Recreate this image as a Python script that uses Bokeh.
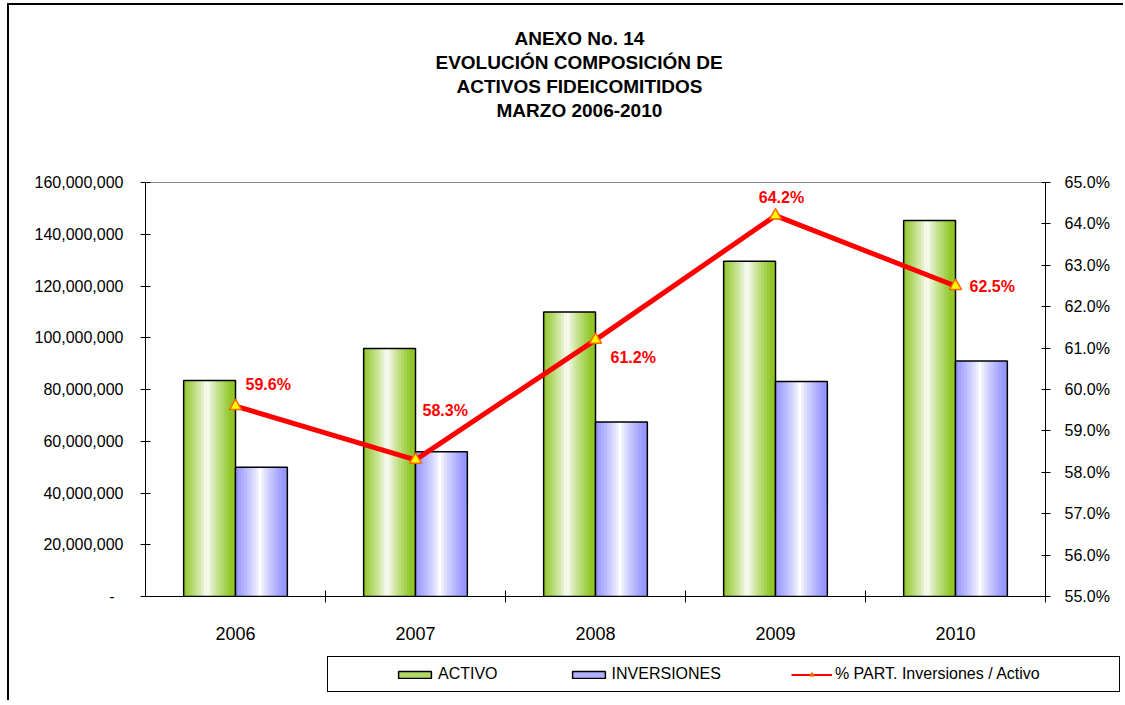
from bokeh.plotting import figure
from bokeh.layouts import column
from bokeh.models import (ColumnDataSource, LinearAxis, Range1d, FixedTicker, Legend,
                          LegendItem, Title, NumeralTickFormatter, PrintfTickFormatter)
from bokeh.transform import dodge
from bokeh.core.properties import value
from bokeh.embed import file_html
from bokeh.resources import INLINE

# ---------------- data ----------------
years = ["2006", "2007", "2008", "2009", "2010"]
activo = [83_500_000, 95_800_000, 110_000_000, 129_600_000, 145_300_000]
inversiones = [50_000_000, 55_900_000, 67_400_000, 83_100_000, 91_000_000]
pct = [59.6, 58.3, 61.2, 64.2, 62.5]
pct_labels = ["59.6%", "58.3%", "61.2%", "64.2%", "62.5%"]
left_ticks = [0, 20_000_000, 40_000_000, 60_000_000, 80_000_000,
              100_000_000, 120_000_000, 140_000_000, 160_000_000]
right_ticks = [55, 56, 57, 58, 59, 60, 61, 62, 63, 64, 65]
title_lines = ["ANEXO No. 14", "EVOLUCIÓN COMPOSICIÓN  DE",
               "ACTIVOS FIDEICOMITIDOS", "MARZO 2006-2010"]
series_names = ["ACTIVO", "INVERSIONES", "% PART. Inversiones / Activo"]

# placement (style only)
lab_dx = [10, 7, 15, 6, 14]
lab_dy = [-22, -49, 18, -18, 0]
lab_align = ["left", "left", "left", "center", "left"]
title_offsets = [369, 290, 311, 351]
legend_pad_right = " " * 16   # widens the legend box like the original

FONT = "Liberation Sans"
GREEN = (145, 198, 40)
BLUE = (150, 150, 255)
idx = list(range(1, len(years) + 1))

src = ColumnDataSource(dict(idx=idx, year=years, activo=activo, inv=inversiones,
                            pct=pct, lab=pct_labels, dx=lab_dx, dy=lab_dy, al=lab_align))

W = 1114
p = figure(frame_width=900, frame_height=414,
           min_border_left=136, min_border_right=W - 136 - 900, min_border_top=177, min_border_bottom=60,
           x_range=Range1d(0.5, 5.5), y_range=Range1d(0, 160_000_000),
           x_axis_location=None, y_axis_location=None,
           output_backend="svg", toolbar_location=None)
p.extra_y_ranges = {"pct": Range1d(55, 65)}
p.xgrid.visible = False
p.ygrid.visible = False
p.outline_line_color = "#8c8c8c"
p.outline_line_width = 1
p.background_fill_color = "white"
p.border_fill_color = "white"

# ---------------- gradient bars ----------------
BW = 0.288
N = 18


def mix(edge, u, c):
    d = abs(u - c) / 0.46
    t = min(1.0, d) ** 0.8
    r = [round(255 + (e - 255) * t) for e in edge]
    return "#%02x%02x%02x" % tuple(r)


def gradient_bar(col, center_off, edge, c):
    s = BW / N
    for k in range(N):
        l = -BW / 2 + k * s
        r = min(l + s * 1.35, BW / 2)
        u = (k + 0.5) / N
        p.vbar(x=dodge("idx", center_off + (l + r) / 2), top=col, bottom=0,
               width=r - l, source=src, fill_color=mix(edge, u, c), line_color=None)
    p.vbar(x=dodge("idx", center_off), top=col, bottom=0, width=BW, source=src,
           fill_color=None, line_color="black", line_width=1.5)


gradient_bar("activo", -BW / 2, GREEN, 0.45)
gradient_bar("inv", BW / 2, BLUE, 0.47)

# ---------------- line ----------------
p.line(x="idx", y="pct", source=src, y_range_name="pct", line_color="#ff0000", line_width=5)
p.scatter(x="idx", y="pct", source=src, y_range_name="pct", marker="triangle", size=12,
          fill_color="#ffff00", line_color="#ff6600", line_width=1.5)
p.text(x="idx", y="pct", text="lab", source=src, y_range_name="pct", x_offset="dx", y_offset="dy",
       text_align="al", text_baseline="middle", text_color="#ff0000",
       text_font=value(FONT), text_font_style="bold", text_font_size="16px")

# ---------------- axes ----------------
yl = LinearAxis(ticker=FixedTicker(ticks=left_ticks), formatter=NumeralTickFormatter(format="0,0"),
                major_label_overrides={0: "-\u00a0\u00a0"},
                major_tick_in=5, major_tick_out=5, minor_tick_line_color=None,
                major_label_standoff=17, axis_line_color="black", major_tick_line_color="black",
                major_label_text_font=FONT, major_label_text_font_size="16px",
                major_label_text_color="black")
p.add_layout(yl, "left")

yr = LinearAxis(y_range_name="pct", ticker=FixedTicker(ticks=right_ticks),
                formatter=PrintfTickFormatter(format="%.1f%%"),
                major_tick_in=4, major_tick_out=5, minor_tick_line_color=None,
                major_label_standoff=14, axis_line_color="black", major_tick_line_color="black",
                major_label_text_font=FONT, major_label_text_font_size="16px",
                major_label_text_color="black")
p.add_layout(yr, "right")

bticks = [i + 0.5 for i in idx]
xb = LinearAxis(ticker=FixedTicker(ticks=bticks),
                major_label_overrides={t: "" for t in bticks},
                major_tick_in=6, major_tick_out=6, minor_tick_line_color=None,
                major_label_text_font_size="0px", major_label_standoff=0,
                axis_line_color="black", major_tick_line_color="black")
p.add_layout(xb, "below")

xl = LinearAxis(ticker=FixedTicker(ticks=idx),
                major_label_overrides={i: y for i, y in zip(idx, years)},
                axis_line_color=None, major_tick_line_color=None, minor_tick_line_color=None,
                major_tick_out=0, major_tick_in=0, major_label_standoff=24,
                major_label_text_font=FONT, major_label_text_font_size="18px",
                major_label_text_color="black")
p.add_layout(xl, "below")

# ---------------- title (stacked outward from the frame) ----------------
p.add_layout(Title(text=" ", standoff=39, text_font=FONT, text_font_size="18px"), "above")
for t, off in zip(reversed(title_lines), reversed(title_offsets)):
    p.add_layout(Title(text=t, align="left", offset=off, standoff=1,
                       text_font=FONT, text_font_style="bold", text_font_size="19px",
                       text_color="black"), "above")

# ---------------- legend strip (own figure below the chart) ----------------
LH = 44
lf = figure(frame_width=W, frame_height=LH, min_border=0,
            x_range=Range1d(0, 1), y_range=Range1d(0, 1),
            x_axis_location=None, y_axis_location=None,
            output_backend="svg", toolbar_location=None)
lf.xgrid.visible = False
lf.ygrid.visible = False
lf.outline_line_color = None
lf.background_fill_color = "white"
lf.border_fill_color = "white"

# hidden copies of the series, only used to draw the legend glyphs
g_act = lf.vbar(x="idx", top="activo", width=0.1, source=src, visible=False,
                fill_color=mix(GREEN, 0.15, 0.45), line_color="black", line_width=1.5)
g_inv = lf.vbar(x="idx", top="inv", width=0.1, source=src, visible=False,
                fill_color=mix(BLUE, 0.15, 0.47), line_color="black", line_width=1.5)
g_line = lf.line(x="idx", y="pct", source=src, visible=False, line_color="#ff0000", line_width=2)
g_mark = lf.scatter(x="idx", y="pct", source=src, visible=False, marker="triangle", size=10,
                    fill_color="#ffff00", line_color="#ff6600", line_width=1.5)

legend = Legend(items=[
    LegendItem(label=series_names[0], renderers=[g_act]),
    LegendItem(label=series_names[1], renderers=[g_inv]),
    LegendItem(label=series_names[2] + legend_pad_right, renderers=[g_line, g_mark]),
], location=(318, 8), orientation="horizontal", glyph_width=41, glyph_height=9,
    label_standoff=3, spacing=70, padding=8,
    border_line_color="black", border_line_width=1.5, border_line_alpha=1.0,
    label_text_font=FONT, label_text_font_size="16px", label_text_color="black",
    title=" ", title_location="left", title_standoff=43,
    background_fill_color="white", background_fill_alpha=1.0, inactive_fill_alpha=0.0, margin=0)
lf.add_layout(legend, "center")

layout = column(p, lf, spacing=0,
                styles={"margin-left": "7px", "margin-top": "3px",
                        "border-left": "2px solid black", "border-top": "2px solid black"})

open("out.html", "w").write(file_html(layout, INLINE))
